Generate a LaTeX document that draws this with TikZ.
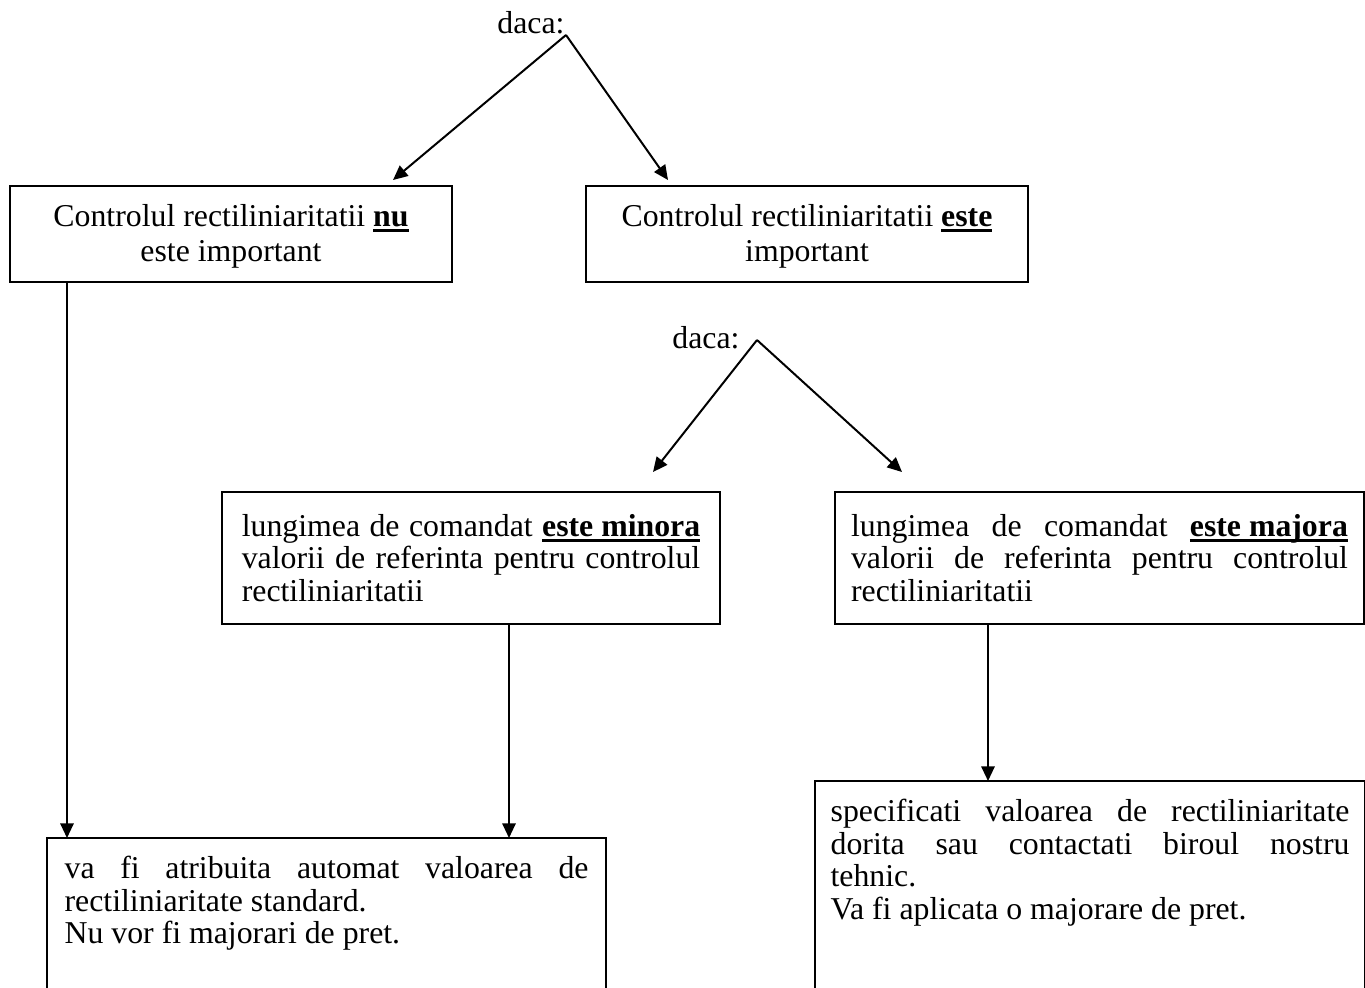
\documentclass[tikz,border=0pt]{standalone}
\usepackage{fontspec}
\setmainfont{Liberation Serif}
\usetikzlibrary{arrows.meta}
\setlength\parindent{0pt}
% bold text with a heavy underline
\newcommand\bul[1]{\setbox0\hbox{\bfseries #1}\rlap{\rule[-2.1pt]{\wd0}{1.1pt}}\box0}
\begin{document}
\begin{tikzpicture}[x=0.3774pt,y=-0.3774pt,
  every node/.style={font=\fontsize{12}{13.1}\selectfont},
  box/.style={draw,line width=0.75pt,inner sep=0pt},
  parbox/.style={font=\fontsize{12}{12.3}\selectfont,align=justify},
  openbox/.style={parbox,inner ysep=6.6pt,anchor=north west},
  frame/.style={line width=0.75pt},
  arr/.style={line width=0.75pt,-{Triangle[length=5.5pt,width=5pt]}}]
\clip (0,0) rectangle (1365,987);

% first decision
\node[anchor=base east,inner sep=0pt] (daca1) at (565,33) {daca:};
\coordinate (apex1) at (566,35);
\coordinate (tip1) at (393,180);
\coordinate (tip2) at (668,180);

\node[box,minimum width=166.8pt,minimum height=36.2pt,align=center] (nu) at (231,234)
  {\rule{0pt}{10pt}Controlul rectiliniaritatii \bul{nu}\\este important};
\node[box,minimum width=166.8pt,minimum height=36.2pt,align=center] (este) at (807,234)
  {\rule{0pt}{10pt}Controlul rectiliniaritatii \bul{este}\\important};

\draw[arr] (apex1) -- (tip1);
\draw[arr] (apex1) -- (tip2);

% second decision
\node[anchor=base east,inner sep=0pt] (daca2) at (740,348) {daca:};
\coordinate (apex2) at (757,340);
\coordinate (tip3) at (653,472);
\coordinate (tip4) at (902,472);

\node[box,parbox,minimum width=187.9pt,minimum height=49.8pt,text width=173pt] (minora) at (471,558)
  {lungimea de comandat \bul{este minora}\linebreak valorii de referinta pentru controlul\linebreak rectiliniaritatii};
\node[box,parbox,minimum width=199.6pt,minimum height=49.8pt,text width=187.5pt] (majora) at (1099.5,558)
  {lungimea de comandat \bul{este majora}\linebreak valorii de referinta pentru controlul\linebreak rectiliniaritatii};

\draw[arr] (apex2) -- (tip3);
\draw[arr] (apex2) -- (tip4);

% outcomes (boxes open at the bottom)
\node[openbox,text width=197.7pt,inner xsep=6.45pt] (auto) at (47,838)
  {va fi atribuita automat valoarea de\linebreak rectiliniaritate standard.\\Nu vor fi majorari de pret.};
\node[openbox,text width=195.8pt,inner xsep=5.7pt] (spec) at (815,781)
  {specificati valoarea de rectiliniaritate\linebreak dorita sau contactati biroul nostru\linebreak tehnic.\\Va fi aplicata o majorare de pret.};

\draw[frame] ([yshift=-200pt]auto.north west) -- (auto.north west) -- (auto.north east) -- ([yshift=-200pt]auto.north east);
\draw[frame] ([yshift=-200pt]spec.north west) -- (spec.north west) -- (spec.north east) -- ([yshift=-200pt]spec.north east);

% vertical connectors
\coordinate (x1) at (67,0);
\coordinate (x2) at (509,0);
\coordinate (x3) at (988,0);
\draw[arr] (nu.south -| x1) -- (auto.north -| x1);
\draw[arr] (minora.south -| x2) -- (auto.north -| x2);
\draw[arr] (majora.south -| x3) -- (spec.north -| x3);
\end{tikzpicture}
\end{document}
